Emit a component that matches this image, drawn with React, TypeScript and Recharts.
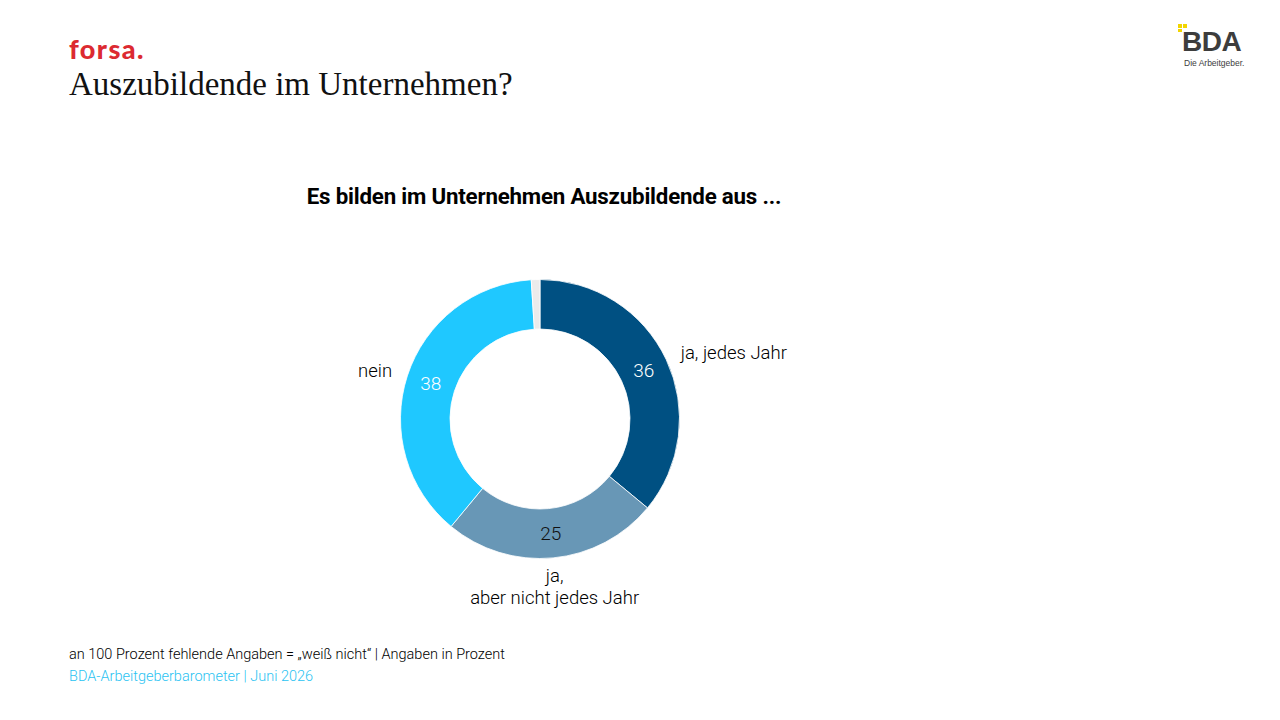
import { PieChart, Pie, Cell } from "recharts";

const categories = ["ja, jedes Jahr", "ja,\naber nicht jedes Jahr", "nein", "weiß nicht"];
const values = [36, 25, 38, 1];
const showLabel = [true, true, true, false];

const sliceColors = ["#005082", "#6897b6", "#1fc8ff", "#ebebeb"];
const valueColors = ["#ffffff", "#111111", "#ffffff", "#111111"];

const RAD = Math.PI / 180;
const labelFont = "Roboto, 'Open Sans', sans-serif";

const data = categories.map((name, i) => ({ name, value: values[i] }));

function renderLabel(props: any) {
  const { cx, cy, midAngle, innerRadius, outerRadius, index, value } = props;
  if (!showLabel[index]) return null;
  const cos = Math.cos(-midAngle * RAD);
  const sin = Math.sin(-midAngle * RAD);
  const rIn = (innerRadius + outerRadius) / 2;
  const rOut = outerRadius + 16;
  const ix = cx + rIn * cos;
  const iy = cy + rIn * sin;
  const ox = cx + rOut * cos;
  const oy = cy + rOut * sin;
  const anchor = cos > 0.3 ? "start" : cos < -0.3 ? "end" : "middle";
  const lines = categories[index].split("\n");
  const firstDy = lines.length > 1 ? 2 : 0;
  return (
    <g>
      <text
        x={ix}
        y={iy}
        fill={valueColors[index]}
        textAnchor="middle"
        dominantBaseline="central"
        fontSize={19}
        fontWeight={300}
        fontFamily={labelFont}
      >
        {value}
      </text>
      {lines.map((l, k) => (
        <text
          key={k}
          x={ox}
          y={oy + firstDy + k * 22}
          fill="#000000"
          textAnchor={anchor}
          dominantBaseline="central"
          fontSize={18.5}
          fontWeight={300}
          fontFamily={labelFont}
        >
          {l}
        </text>
      ))}
    </g>
  );
}

export default function App() {
  return (
    <div
      style={{
        position: "relative",
        width: 1280,
        height: 720,
        margin: -8,
        background: "#fff",
        overflow: "hidden",
      }}
    >
      {/* header */}
      <div
        style={{
          position: "absolute",
          left: 69,
          top: 33,
          fontFamily: "Lato, sans-serif",
          fontWeight: 900,
          fontSize: 27,
          lineHeight: "32px",
          color: "#dc2a31",
          letterSpacing: 1.4,
        }}
      >
        forsa.
      </div>
      <div
        style={{
          position: "absolute",
          left: 69,
          top: 66,
          fontFamily: "'Liberation Serif', serif",
          fontSize: 33,
          color: "#111",
        }}
      >
        Auszubildende im Unternehmen?
      </div>

      {/* BDA logo */}
      <svg style={{ position: "absolute", left: 1170, top: 18 }} width={14} height={14}>
        <rect x={8} y={6} width={4} height={4} fill="#f2d500" />
        <rect x={8} y={11} width={4} height={4} fill="#f2d500" />
      </svg>
      <svg style={{ position: "absolute", left: 1183, top: 24 }} width={5} height={5}>
        <rect x={0} y={0} width={4} height={4} fill="#f2d500" />
      </svg>
      <div
        style={{
          position: "absolute",
          left: 1182,
          top: 26,
          fontFamily: "'Liberation Sans', sans-serif",
          fontWeight: 700,
          fontSize: 28,
          lineHeight: "32px",
          color: "#3d3d3d",
          letterSpacing: -0.5,
        }}
      >
        BDA
      </div>
      <div
        style={{
          position: "absolute",
          left: 1184,
          top: 58,
          fontFamily: "'Liberation Sans', sans-serif",
          fontSize: 8.5,
          lineHeight: "10px",
          color: "#3d3d3d",
        }}
      >
        Die Arbeitgeber.
      </div>

      {/* chart title */}
      <div
        style={{
          position: "absolute",
          left: 244,
          width: 600,
          top: 183,
          textAlign: "center",
          fontFamily: "'Roboto', sans-serif",
          fontWeight: 700,
          fontSize: 22.3,
          color: "#000",
          letterSpacing: -0.2,
        }}
      >
        Es bilden im Unternehmen Auszubildende aus ...
      </div>

      <div style={{ position: "absolute", left: 0, top: 0 }}>
        <PieChart width={1280} height={720} margin={{ top: 0, right: 0, bottom: 0, left: 0 }}>
          <Pie
            data={data}
            dataKey="value"
            nameKey="name"
            cx={540}
            cy={419}
            innerRadius={90}
            outerRadius={139.5}
            startAngle={90}
            endAngle={-270}
            stroke="#ffffff"
            strokeWidth={0.8}
            label={renderLabel}
            labelLine={false}
            isAnimationActive={false}
          >
            {data.map((d, i) => (
              <Cell key={d.name} fill={sliceColors[i]} />
            ))}
          </Pie>
        </PieChart>
      </div>

      {/* footer */}
      <div
        style={{
          position: "absolute",
          left: 69,
          top: 644,
          fontFamily: labelFont,
          fontWeight: 300,
          fontSize: 14.5,
          color: "#000",
          lineHeight: "22px",
        }}
      >
        <div>an 100 Prozent fehlende Angaben = „weiß nicht“ | Angaben in Prozent</div>
        <div style={{ color: "#2bc3f2" }}>BDA-Arbeitgeberbarometer | Juni 2026</div>
      </div>
    </div>
  );
}
